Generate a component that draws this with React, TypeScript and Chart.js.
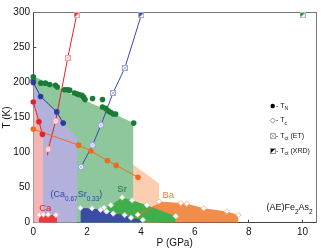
import React, { useEffect, useRef } from 'react';
import { Chart, registerables } from 'chart.js';
Chart.register(...registerables);

const FONT = '"Liberation Sans", Arial, Helvetica, sans-serif';

// ---------- data ----------
const xTicks = [0, 2, 4, 6, 8, 10];
const yTicks = [0, 50, 100, 150, 200, 250, 300];

// CaFe2As2
const caTN = [[0, 172], [0.21, 144], [0.34, 126]];
const caAFM = [[0, 172], [0.21, 144], [0.34, 126], [0.37, 123]];
const caSC = [[0.21, 11], [0.37, 11.5], [0.55, 11.5], [0.88, 11]];
const caTc = [[0.22, 11], [0.37, 11.5], [0.55, 11.5], [0.84, 11]];
const caTctLine = [[0.53, 96], [0.55, 104.6], [0.83, 145], [1.28, 235], [1.61, 296]];
const caTctET = [[0.55, 104.6], [0.83, 145], [1.28, 235]];
const caTctXRD = [[1.61, 296]];

// (Ca0.67Sr0.33)Fe2As2
const csTN = [[0, 200], [0.27, 180], [0.87, 158], [1.11, 142]];
const csAFM = [[0, 200], [0.27, 180], [0.87, 158], [1.11, 142], [1.63, 120]];
const csSC = [[1.75, 21], [2.18, 20.5], [2.5, 18.4], [2.72, 16], [2.97, 13], [3.39, 11], [3.63, 7], [4.07, 4], [4.12, 4]];
const csTc = [[1.75, 21], [2.18, 20.5], [2.5, 18.4], [2.72, 16], [2.97, 13], [3.39, 11], [3.63, 7], [4.07, 4]];
const csTctLine = [[1.77, 79.4], [2.2, 110.6], [2.51, 139], [2.96, 185], [3.4, 220.7], [4.01, 296]];
const csTctET = [[1.77, 79.4], [2.2, 110.6], [2.51, 139], [2.96, 185], [3.4, 220.7]];
const csTctXRD = [[4.01, 296]];

// SrFe2As2
const srTN = [
  [0, 208], [0, 203], [0.28, 199], [0.45, 199], [0.61, 197], [0.82, 196], [0.89, 193.5],
  [1.16, 189.5], [1.26, 189.5], [1.35, 189], [1.53, 185], [1.63, 183.5], [1.71, 182.5],
  [1.8, 181.5], [1.87, 179], [1.92, 175.5], [2.2, 177], [2.57, 175.5], [2.57, 165],
  [2.69, 163], [2.78, 159.5], [2.87, 157.5], [2.97, 155], [3.06, 155], [3.73, 142],
];
const srAFM = [[0, 209], [3.72, 142]];
const srSC = [[2.63, 21.5], [2.88, 25], [3.3, 36], [3.67, 32], [4.22, 25], [5.29, 9.2]];
const srTc = [[2.63, 21.5], [2.88, 25], [3.3, 36], [3.67, 32], [4.22, 25], [5.29, 9.2]];
const srTctXRD = [[10, 296]];

// BaFe2As2
const baTN = [[0, 133.5], [1.68, 110.6], [2.14, 102.3], [2.75, 88.6], [3.08, 81.7], [3.89, 64.7]];
const baAFM = [[3.55, 87.4], [4.67, 56]];
const baSC = [[3.88, 11.5], [4.62, 25.7], [4.67, 30.3], [5.48, 28], [5.7, 27], [6.33, 20.5], [7.19, 16], [7.62, 11]];
const baTc = [[3.88, 11.5], [4.67, 30.3], [5.48, 28], [5.7, 27], [6.33, 20.5], [7.19, 16], [7.62, 11]];
const baTcLine = [[3.88, 11.5], [4.62, 25.7]];

// ---------- styles ----------
const C = {
  red: '#e2222a', blue: '#2c3c9c', green: '#1a7b35', orange: '#f26b1d',
  pink: '#f5b4b6', lav: '#b3b1db', greenFill: '#8dc79b', peach: '#fdcdb0',
  redSC: '#e8393f', blueSC: '#3b4ca3', greenSC: '#40ae4b', orangeSC: '#f28c4a',
};

const pts = (a: number[][]) => a.map(([x, y]) => ({ x, y }));

function makeET(color: string) {
  const c = document.createElement('canvas');
  c.width = 6; c.height = 6;
  const g = c.getContext('2d')!;
  g.fillStyle = '#fff'; g.fillRect(0, 0, 6, 6);
  g.strokeStyle = color; g.lineWidth = 1;
  g.strokeRect(0.5, 0.5, 5, 5);
  g.globalAlpha = 0.7;
  g.beginPath(); g.moveTo(1, 1); g.lineTo(5, 5); g.moveTo(5, 1); g.lineTo(1, 5); g.stroke();
  return c;
}
function makeFlag(color: string, edge: string) {
  const c = document.createElement('canvas');
  c.width = 6; c.height = 6;
  const g = c.getContext('2d')!;
  g.fillStyle = '#fff'; g.fillRect(0, 0, 6, 6);
  g.fillStyle = color;
  g.beginPath(); g.moveTo(0, 0); g.lineTo(6, 0); g.lineTo(0, 6); g.closePath(); g.fill();
  g.strokeStyle = edge; g.lineWidth = 1; g.strokeRect(0.5, 0.5, 5, 5);
  return c;
}

type Seg = [string, boolean?];
function drawRich(ctx: CanvasRenderingContext2D, x: number, y: number, segs: Seg[], size: number, sub: number, color: string, subDy: number) {
  ctx.save();
  ctx.fillStyle = color; ctx.textBaseline = 'middle'; ctx.textAlign = 'left';
  let cx = x;
  for (const [t, isSub] of segs) {
    ctx.font = `${isSub ? sub : size}px ${FONT}`;
    ctx.fillText(t, cx, isSub ? y + subDy : y);
    cx += ctx.measureText(t).width;
  }
  ctx.restore();
}

const regionLabels: { segs: Seg[]; p: number; t: number; color: string; size: number }[] = [
  { segs: [['Ca']], p: 0.22, t: 20.6, color: C.red, size: 9.5 },
  { segs: [['(Ca'], ['0.67', true], ['Sr'], ['0.33', true], [')']], p: 0.64, t: 40.5, color: '#3444a6', size: 9 },
  { segs: [['Sr']], p: 3.12, t: 47.3, color: C.green, size: 9.5 },
  { segs: [['Ba']], p: 4.8, t: 39.1, color: '#f07a3a', size: 9.5 },
  { segs: [['(AE)Fe'], ['2', true], ['As'], ['2', true]], p: 8.66, t: 22, color: '#111', size: 9 },
];

const legendRows: { kind: string; segs: Seg[] }[] = [
  { kind: 'circle', segs: [['- T'], ['N', true]] },
  { kind: 'diamond', segs: [['- T'], ['c', true]] },
  { kind: 'et', segs: [['- T'], ['ct', true], [' (ET)']] },
  { kind: 'xrd', segs: [['- T'], ['ct', true], [' (XRD)']] },
];

const annotPlugin = {
  id: 'annot',
  afterDatasetsDraw(chart: any) {
    const { ctx, scales } = chart;
    const xs = scales.x, ys = scales.y;
    for (const l of regionLabels) {
      drawRich(ctx, xs.getPixelForValue(l.p), ys.getPixelForValue(l.t), l.segs, l.size, 6.5, l.color, 5);
    }
    // legend
    const mx = 272.7, tx = 276;
    const rowsY = [106, 120.5, 136, 151];
    legendRows.forEach((r, i) => {
      const y = rowsY[i];
      ctx.save();
      if (r.kind === 'circle') {
        ctx.fillStyle = '#000'; ctx.beginPath(); ctx.arc(mx, y, 2.2, 0, Math.PI * 2); ctx.fill();
      } else if (r.kind === 'diamond') {
        ctx.strokeStyle = '#999'; ctx.fillStyle = '#fff'; ctx.lineWidth = 1;
        ctx.beginPath(); ctx.moveTo(mx, y - 2.6); ctx.lineTo(mx + 2.6, y); ctx.lineTo(mx, y + 2.6); ctx.lineTo(mx - 2.6, y); ctx.closePath(); ctx.fill(); ctx.stroke();
      } else if (r.kind === 'et') {
        ctx.drawImage(makeET('#aaa'), Math.round(mx - 3), Math.round(y - 3));
      } else {
        ctx.drawImage(makeFlag('#000', '#999'), Math.round(mx - 3), Math.round(y - 3));
      }
      ctx.restore();
      drawRich(ctx, tx, y, r.segs, 7, 5, '#111', 3);
    });
  },
};

export default function App() {
  const ref = useRef<HTMLCanvasElement | null>(null);
  useEffect(() => {
    if (!ref.current) return;
    const caET = makeET('#f3a0a0');
    const csET = makeET('#9aa6dc');
    const caFlag = makeFlag(C.red, '#f5a0a0');
    const csFlag = makeFlag(C.blue, '#9aa4d8');
    const srFlag = makeFlag(C.green, '#9fd0a8');

    const area = (data: number[][], color: string, order: number) => ({
      data: pts(data), fill: 'origin', backgroundColor: color, borderColor: 'transparent',
      borderWidth: 1, pointRadius: 0, order, tension: 0,
    });
    const line = (data: number[][], color: string, order = 20) => ({
      data: pts(data), fill: false, borderColor: color, borderWidth: 1, pointRadius: 0, order, clip: false,
    });
    const dots = (data: number[][], color: string, withLine: boolean) => ({
      data: pts(data), fill: false, showLine: withLine, borderColor: color, borderWidth: 1,
      pointStyle: 'circle', pointRadius: 2.8, pointBackgroundColor: color, pointBorderColor: color,
      pointBorderWidth: 0, order: 12, clip: false,
    });
    const diamonds = (data: number[][], edge: string) => ({
      data: pts(data), fill: false, showLine: false, pointStyle: 'rectRot', pointRadius: 2.7,
      pointBackgroundColor: '#fff', pointBorderColor: edge, pointBorderWidth: 1, order: 10, clip: false,
    });
    const imgs = (data: number[][], img: HTMLCanvasElement) => ({
      data: pts(data), fill: false, showLine: false, pointStyle: img, pointRadius: 3, order: 10, clip: false,
    });

    const chart = new Chart(ref.current, {
      type: 'line',
      data: {
        datasets: [
          area(baAFM, C.peach, 100),
          area(srAFM, C.greenFill, 90),
          area(csAFM, C.lav, 80),
          area(caAFM, C.pink, 70),
          area(baSC, C.orangeSC, 60),
          area(srSC, C.greenSC, 50),
          area(csSC, C.blueSC, 40),
          area(caSC, C.redSC, 30),
          line(caTctLine, C.red),
          line(csTctLine, '#3a4ab0'),
          line(baTcLine, C.orange),
          dots(caTN, C.red, true),
          dots(csTN, C.blue, true),
          dots(baTN, C.orange, true),
          dots(srTN, C.green, false),
          diamonds(caTc, '#f6b0b0'),
          diamonds(csTc, '#c8cce8'),
          diamonds(srTc, '#c0e2c4'),
          diamonds(baTc, '#f8b890'),
          imgs(caTctET, caET),
          imgs(csTctET, csET),
          imgs(caTctXRD, caFlag),
          imgs(csTctXRD, csFlag),
          imgs(srTctXRD, srFlag),
        ] as any,
      },
      options: {
        animation: false,
        responsive: false,
        events: [],
        layout: { padding: { left: 0, right: 1.7, top: 4.7, bottom: 0 } },
        plugins: { legend: { display: false }, tooltip: { enabled: false } },
        scales: {
          x: {
            type: 'linear', position: 'bottom', min: 0, max: 10.5,
            afterBuildTicks: (s: any) => { s.ticks = xTicks.map((v) => ({ value: v })); },
            afterFit: (s: any) => { s.height = 26.3; },
            grid: { drawOnChartArea: false, drawTicks: true, tickLength: -3, color: '#444' },
            border: { display: true, color: '#444', width: 1 },
            ticks: { font: { family: FONT, size: 10 }, color: '#111', padding: 7, maxRotation: 0, autoSkip: false },
            title: { display: true, text: 'P (GPa)', font: { family: FONT, size: 10 }, color: '#111', padding: 0 },
          },
          y: {
            type: 'linear', position: 'left', min: 0, max: 300,
            afterBuildTicks: (s: any) => { s.ticks = yTicks.map((v) => ({ value: v })); },
            afterFit: (s: any) => { s.width = 33.3; },
            grid: { drawOnChartArea: false, drawTicks: true, tickLength: -3, color: '#444' },
            border: { display: true, color: '#444', width: 1 },
            ticks: { font: { family: FONT, size: 10 }, color: '#111', padding: 6.3, autoSkip: false },
            title: { display: true, text: 'T (K)', font: { family: FONT, size: 10 }, color: '#111', padding: { top: 1.5, bottom: 0 } },
          },
          x2: {
            type: 'linear', position: 'top', min: 0, max: 10.5, display: true,
            afterFit: (s: any) => { s.height = 0; },
            grid: { display: true, drawOnChartArea: false, drawTicks: false },
            border: { display: true, color: '#777', width: 1 },
            ticks: { display: false },
          },
          y2: {
            type: 'linear', position: 'right', min: 0, max: 300, display: true,
            afterFit: (s: any) => { s.width = 0; },
            grid: { display: true, drawOnChartArea: false, drawTicks: false },
            border: { display: true, color: '#777', width: 1 },
            ticks: { display: false },
          },
        },
      } as any,
      plugins: [annotPlugin],
    });
    return () => chart.destroy();
  }, []);

  return (
    <canvas
      ref={ref}
      width={321}
      height={249}
      style={{ position: 'absolute', left: 0, top: 0, width: 321, height: 249 }}
    />
  );
}
